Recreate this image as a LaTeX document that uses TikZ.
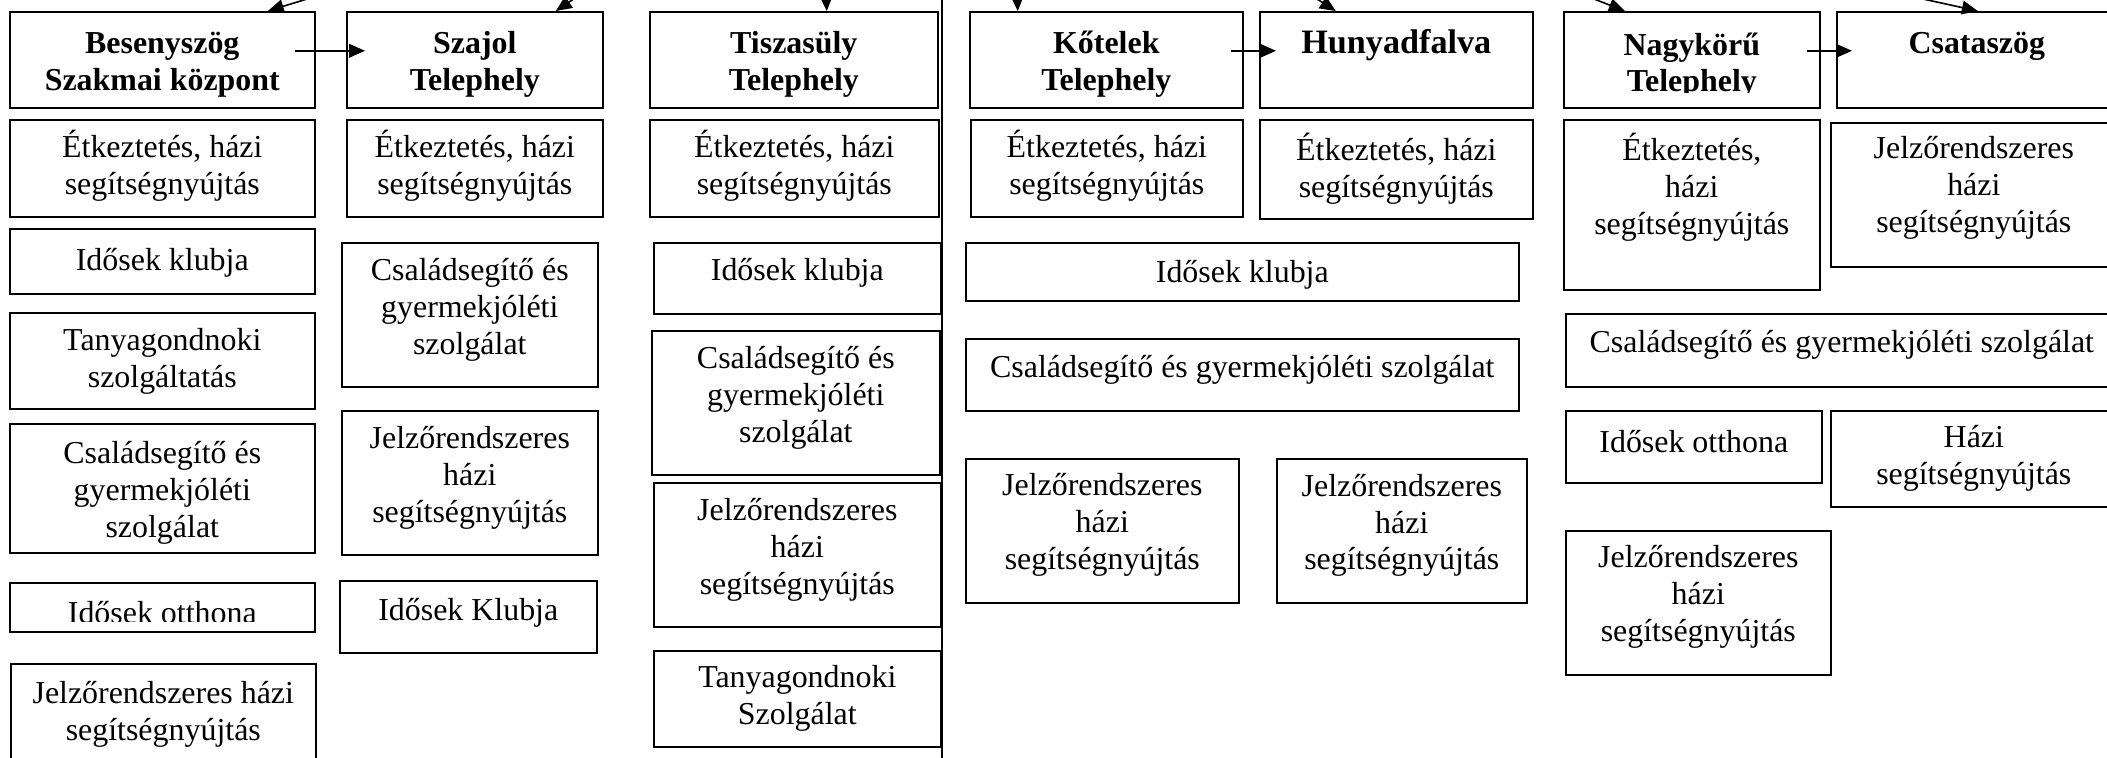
\documentclass[tikz,border=0pt]{standalone}
\usepackage{fontspec}
\setmainfont{Liberation Serif}
\usepackage{tikz}
\usetikzlibrary{arrows.meta}
\newlength{\upx}
\setlength{\upx}{0.4386pt}
\tikzstyle{arrow} = [line width=0.7pt, -{Triangle[length=7pt, width=6pt]}]

\begin{document}
\fontsize{14}{16.1}\selectfont
\begin{tikzpicture}[x=\upx, y=-\upx,
		box/.style={draw, line width=0.7pt, rectangle, align=center, inner sep=0pt, anchor=north west, text height=12pt, text depth=#1},
		box/.default=3pt,
		l2/.style={text height=28.1pt},
		l3/.style={text height=44.2pt},
		head/.style={font=\bfseries},
		dims/.style 2 args={minimum width=#1\upx, minimum height=#2\upx},
	]
	\useasboundingbox (0,0) rectangle (2107,757);
	\clip (0,0) rectangle (2107,757);

	% Besenyszog
	\node[head, box=1pt, l2, dims={305}{96}] (besHead) at (9,11) {Besenyszög\\Szakmai központ};
	\node[box=5pt, l2, dims={305}{97}] (besEtk) at (9,119) {Étkeztetés, házi\\segítségnyújtás};
	\node[box=3.7pt, dims={305}{65}] (besKlub) at (9,228) {Idősek klubja};
	\node[box=4.7pt, l2, dims={305}{96}] (besTanya) at (9,312) {Tanyagondnoki\\szolgáltatás};
	\node[box=1.2pt, l3, dims={305}{129}] (besCsal) at (9,423) {Családsegítő és\\gyermekjóléti\\szolgálat};
	\node[box, dims={305}{49}] (besOtthon) at (9,582) {};
	\begin{scope}
		\clip (besOtthon.north west) rectangle ([shift={(0,-11)}]besOtthon.south east);
		\node[inner sep=0pt, text height=14pt, text depth=0pt] (besOtthonTxt) at (besOtthon.center) {Idősek otthona};
	\end{scope}
	\node[box=12pt, l2, dims={305}{117}] (besJelz) at (10,663) {Jelzőrendszeres házi\\segítségnyújtás};

	% Szajol
	\node[head, box=1pt, l2, dims={256}{96}] (szajHead) at (346,11) {Szajol\\Telephely};
	\node[box=5pt, l2, dims={256}{97}] (szajEtk) at (346,119) {Étkeztetés, házi\\segítségnyújtás};
	\node[box=9.6pt, l3, dims={256}{144}] (szajCsal) at (341,242) {Családsegítő és\\gyermekjóléti\\szolgálat};
	\node[box=9.6pt, l3, dims={256}{144}] (szajJelz) at (341,410) {Jelzőrendszeres\\házi\\segítségnyújtás};
	\node[box=8.5pt, dims={257}{72}] (szajKlub) at (339,580) {Idősek Klubja};

	% Tiszasuly
	\node[head, box=1pt, l2, dims={288}{96}] (tiszHead) at (649,11) {Tiszasüly\\Telephely};
	\node[box=5pt, l2, dims={289}{97}] (tiszEtk) at (649,119) {Étkeztetés, házi\\segítségnyújtás};
	\node[box=9.8pt, dims={287}{71}] (tiszKlub) at (653,242) {Idősek klubja};
	\node[box=9.6pt, l3, dims={288}{144}] (tiszCsal) at (651,330) {Családsegítő és\\gyermekjóléti\\szolgálat};
	\node[box=9.6pt, l3, dims={287}{144}] (tiszJelz) at (653,482) {Jelzőrendszeres\\házi\\segítségnyújtás};
	\node[box=5.5pt, l2, dims={287}{96}] (tiszTanya) at (653,650) {Tanyagondnoki\\Szolgálat};

	% Kotelek + Hunyadfalva
	\node[head, box=1pt, l2, dims={273}{96}] (kotHead) at (969,11) {Kőtelek\\Telephely};
	\node[box=5pt, l2, dims={272}{97}] (kotEtk) at (970,119) {Étkeztetés, házi\\segítségnyújtás};
	\node[box=17.3pt, font={\fontsize{15}{17}\selectfont\bfseries}, dims={273}{96}] (hunyHead) at (1259,11) {Hunyadfalva};
	\node[box=3.3pt, l2, dims={273}{99}] (hunyEtk) at (1259,119) {Étkeztetés, házi\\segítségnyújtás};
	\node[box=2.4pt, dims={553}{58}] (kotKlub) at (965,242) {Idősek klubja};
	\node[box=9.4pt, dims={553}{72}] (kotCsal) at (965,338) {Családsegítő és gyermekjóléti szolgálat};
	\node[box=10.6pt, l3, dims={273}{144}] (kotJelz) at (965,458) {Jelzőrendszeres\\házi\\segítségnyújtás};
	\node[box=10pt, l3, dims={250}{144}] (hunyJelz) at (1276,458) {Jelzőrendszeres\\házi\\segítségnyújtás};

	% Nagykoru + Csataszog
	\node[box, dims={256}{96}] (nagyHead) at (1563,11) {};
	\begin{scope}
		\clip (nagyHead.north west) rectangle ([shift={(0,-16)}]nagyHead.south east);
		\node[head, align=center, inner sep=0pt, text height=28.1pt, text depth=0pt] (nagyHeadTxt) at (nagyHead.center) {Nagykörű\\Telephely};
	\end{scope}
	\node[head, box=17.3pt, dims={280}{96}] (csatHead) at (1836,11) {Csataszög};
	\node[box=18.4pt, l3, dims={256}{170}] (nagyEtk) at (1563,119) {Étkeztetés,\\házi\\segítségnyújtás};
	\node[box=11.4pt, l3, dims={286}{144}] (csatJelz) at (1830,122) {Jelzőrendszeres\\házi\\segítségnyújtás};
	\node[box=9.8pt, dims={552}{73}] (nagyCsal) at (1565,313) {Családsegítő és gyermekjóléti szolgálat};
	\node[box=6.8pt, dims={256}{72}] (nagyOtthon) at (1565,410) {Idősek otthona};
	\node[box=5.5pt, l2, dims={286}{96}] (csatHazi) at (1830,410) {Házi\\segítségnyújtás};
	\node[box=10.6pt, l3, dims={265}{144}] (nagyJelz) at (1565,530) {Jelzőrendszeres\\házi\\segítségnyújtás};

	% incoming arrows from above
	\coordinate (srcBes) at (330,-8);
	\coordinate (srcSzaj) at (584,-8);
	\coordinate (srcTisz) at (826,-8);
	\coordinate (srcKot) at (1017,-8);
	\coordinate (srcHuny) at (1306,-8);
	\coordinate (srcNagy) at (1576,-8);
	\coordinate (srcCsat) at (1891,-8);
	\draw[arrow] (srcBes) -- ([shift={(105.5,0)}]besHead.north);
	\draw[arrow] (srcSzaj) -- ([shift={(81,0)}]szajHead.north);
	\draw[arrow] (srcTisz) -- ([shift={(33,0)}]tiszHead.north);
	\draw[arrow] (srcKot) -- ([shift={(-88.5,0)}]kotHead.north);
	\draw[arrow] (srcHuny) -- ([shift={(-60.5,0)}]hunyHead.north);
	\draw[arrow] (srcNagy) -- ([shift={(-67,0)}]nagyHead.north);
	\draw[arrow] (srcCsat) -- ([shift={(1,0)}]csatHead.north);

	% side arrows
	\draw[arrow] ([shift={(-21,-9)}]besHead.east) -- ([shift={(19,-9)}]szajHead.west);
	\draw[arrow] ([shift={(-13,-9)}]kotHead.east) -- ([shift={(17,-9)}]hunyHead.west);
	\draw[arrow] ([shift={(-14,-9)}]nagyHead.east) -- ([shift={(16,-9)}]csatHead.west);

	% divider
	\coordinate (divTop) at (942,-5);
	\coordinate (divBot) at (942,765);
	\draw[line width=0.6pt] (divTop) -- (divBot);
\end{tikzpicture}
\end{document}
